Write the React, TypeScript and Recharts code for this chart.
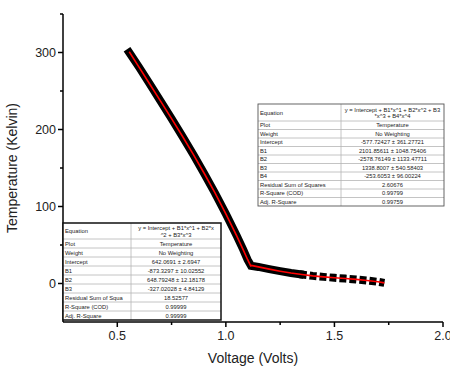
import { LineChart, Line, XAxis, YAxis } from 'recharts';

// measured points (thick black trace)
const dataVolts = [0.555, 0.6, 0.65, 0.7, 0.75, 0.8, 0.85, 0.9, 0.95, 1.0, 1.05, 1.08, 1.1, 1.116, 1.15, 1.2, 1.25, 1.3, 1.34];
const dataTemp = [300, 281, 259, 236.5, 214, 191, 167.5, 143, 117.5, 90.5, 62, 44, 31, 23, 21.5, 18.7, 16, 13.6, 12];
// sparse tail (drawn as dashes)
const tailVolts = [1.34, 1.4, 1.45, 1.5, 1.55, 1.6, 1.65, 1.7, 1.73];
const tailTemp = [12, 9.9, 8.6, 7.4, 6.4, 5.3, 3.9, 2.2, 0.8];
// cubic fit (high temperature branch)
const fitHiVolts = [0.555, 0.6, 0.65, 0.7, 0.75, 0.8, 0.85, 0.9, 0.95, 1.0, 1.05, 1.08, 1.1, 1.116];
const fitHiTemp = [301, 281, 258.7, 236.5, 214.1, 191.2, 167.7, 143.2, 117.6, 90.5, 61.8, 43.7, 31.2, 22];
// quartic fit (low temperature branch)
const fitLoVolts = [1.116, 1.15, 1.2, 1.25, 1.3, 1.35, 1.4, 1.45, 1.5, 1.55, 1.6, 1.65, 1.7, 1.73];
const fitLoTemp = [23.5, 21.6, 18.7, 16, 13.6, 11.6, 9.9, 8.6, 7.4, 6.4, 5.3, 3.9, 2.2, 0.8];

const xTicks = [0.5, 0.75, 1.0, 1.25, 1.5, 1.75, 2.0];
const yTicks = [0, 50, 100, 150, 200, 250, 300, 350];

const leftLabels = ['Equation', 'Plot', 'Weight', 'Intercept', 'B1', 'B2', 'B3', 'Residual Sum of Squa', 'R-Square (COD)', 'Adj. R-Square'];
const leftValues = ['y = Intercept + B1*x^1 + B2*x|^2 + B3*x^3', 'Temperature', 'No Weighting', '642.0691 ± 2.6947', '-873.3297 ± 10.02552', '648.79248 ± 12.18178', '-327.02028 ± 4.84129', '18.52577', '0.99999', '0.99999'];
const rightLabels = ['Equation', 'Plot', 'Weight', 'Intercept', 'B1', 'B2', 'B3', 'B4', 'Residual Sum of Squares', 'R-Square (COD)', 'Adj. R-Square'];
const rightValues = ['y = Intercept + B1*x^1 + B2*x^2 + B3|*x^3 + B4*x^4', 'Temperature', 'No Weighting', '-577.72427 ± 361.27721', '2101.85611 ± 1048.75406', '-2578.76149 ± 1133.47711', '1338.8007 ± 540.58403', '-253.6053 ± 96.00224', '2.60676', '0.99799', '0.99759'];

const zip = (xs: number[], ys: number[]) => xs.map((v, i) => ({ v, t: ys[i] }));

const FONT = '"Liberation Sans", Arial, sans-serif';

function XTick({ x, y, payload }: any) {
  const val = payload.value;
  const major = Math.abs(val * 2 - Math.round(val * 2)) < 1e-6;
  return (
    <g>
      <line x1={x} x2={x} y1={y} y2={y + (major ? 5 : 3)} stroke="#000" strokeWidth={1.5} />
      {major && (
        <text x={x} y={y + 18} textAnchor="middle" fontSize={12.5} fontFamily={FONT} fill="#222">
          {val.toFixed(1)}
        </text>
      )}
    </g>
  );
}

function YTick({ x, y, payload }: any) {
  const val = payload.value;
  const major = val % 100 === 0;
  return (
    <g>
      <line x1={x - (major ? 5 : 3)} x2={x} y1={y} y2={y} stroke="#000" strokeWidth={1.5} />
      {major && (
        <text x={x - 7} y={y + 4.5} textAnchor="end" fontSize={12.5} fontFamily={FONT} fill="#222">
          {val}
        </text>
      )}
    </g>
  );
}

function FitTable({ x, y, w, labelW, eqH, rowH, labels, values, outer, outerW }: any) {
  const h = eqH + rowH * (labels.length - 1);
  const rowTop = (i: number) => (i === 0 ? 0 : eqH + rowH * (i - 1));
  const rowHt = (i: number) => (i === 0 ? eqH : rowH);
  const valX = labelW + (w - labelW) / 2;
  return (
    <g transform={`translate(${x},${y})`} fontFamily={FONT} fontSize={5.8} fill="#222">
      <rect x={0} y={0} width={w} height={h} fill="#fff" />
      {labels.map((_: string, i: number) =>
        i > 0 ? <line key={'r' + i} x1={0} x2={w} y1={rowTop(i)} y2={rowTop(i)} stroke="#b5b5b5" strokeWidth={0.8} /> : null
      )}
      <line x1={labelW} x2={labelW} y1={0} y2={h} stroke="#b5b5b5" strokeWidth={0.8} />
      {labels.map((lab: string, i: number) => (
        <text key={'l' + i} x={2} y={rowTop(i) + rowHt(i) / 2 + 2}>
          {lab}
        </text>
      ))}
      {values.map((val: string, i: number) => {
        const parts = val.split('|');
        if (parts.length > 1) {
          return (
            <g key={'v' + i}>
              <text x={valX} y={rowTop(i) + eqH / 2 - 1} textAnchor="middle">{parts[0]}</text>
              <text x={valX} y={rowTop(i) + eqH / 2 + 5.5} textAnchor="middle">{parts[1]}</text>
            </g>
          );
        }
        return (
          <text key={'v' + i} x={valX} y={rowTop(i) + rowHt(i) / 2 + 2} textAnchor="middle">
            {val}
          </text>
        );
      })}
      <rect x={0} y={0} width={w} height={h} fill="none" stroke={outer} strokeWidth={outerW} />
    </g>
  );
}

export default function App() {
  return (
    <div style={{ position: 'absolute', left: 0, top: 0, width: 450, height: 372, background: '#fff' }}>
      <LineChart width={450} height={372} margin={{ top: 14, right: 7, bottom: 0, left: 0 }}>
        <XAxis
          type="number"
          dataKey="v"
          domain={[0.25, 2.0]}
          ticks={xTicks}
          tick={<XTick />}
          tickLine={false}
          tickSize={0}
          tickMargin={0}
          height={50}
          allowDataOverflow
          axisLine={{ stroke: '#000', strokeWidth: 1.5 }}
          label={{ value: 'Voltage (Volts)', position: 'insideBottom', offset: 9, fontSize: 14, fontFamily: FONT, fill: '#222' }}
        />
        <YAxis
          type="number"
          dataKey="t"
          domain={[-50, 350]}
          ticks={yTicks}
          tick={<YTick />}
          tickLine={false}
          tickSize={0}
          tickMargin={0}
          width={63}
          allowDataOverflow
          axisLine={{ stroke: '#000', strokeWidth: 1.5 }}
          label={{ value: 'Temperature (Kelvin)', angle: -90, position: 'insideLeft', offset: 12, fontSize: 14, fontFamily: FONT, fill: '#222', style: { textAnchor: 'middle' } }}
        />
        <Line data={zip(dataVolts, dataTemp)} dataKey="t" stroke="#000" strokeWidth={8} strokeLinecap="square" strokeLinejoin="miter" dot={false} isAnimationActive={false} />
        <Line data={zip(tailVolts, tailTemp)} dataKey="t" stroke="#000" strokeWidth={8} strokeDasharray="7 3" dot={false} isAnimationActive={false} />
        <Line data={zip(fitHiVolts, fitHiTemp)} dataKey="t" stroke="#ff0000" strokeWidth={1.6} dot={false} isAnimationActive={false} />
        <Line data={zip(fitLoVolts, fitLoTemp)} dataKey="t" stroke="#ff0000" strokeWidth={1.6} dot={false} isAnimationActive={false} />
      </LineChart>
      <svg width={450} height={372} style={{ position: 'absolute', left: 0, top: 0, pointerEvents: 'none' }}>
        <FitTable x={258} y={104} w={186} labelW={83} eqH={17} rowH={8.5} labels={rightLabels} values={rightValues} outer="#555" outerW={0.9} />
        <FitTable x={63} y={223} w={158} labelW={68} eqH={16} rowH={9} labels={leftLabels} values={leftValues} outer="#111" outerW={1.5} />
      </svg>
    </div>
  );
}
